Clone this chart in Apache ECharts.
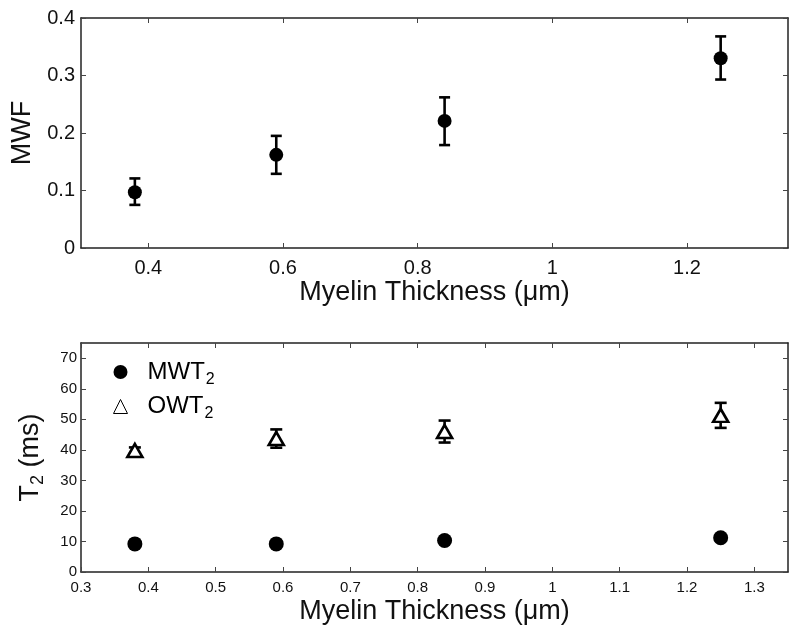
<!DOCTYPE html>
<html><head><meta charset="utf-8">
<script src="https://cdn.jsdelivr.net/npm/echarts@6/dist/echarts.min.js"></script>
<style>html,body{margin:0;padding:0;background:#fff}#c{width:800px;height:637px}</style>
</head><body><div id="c"></div>
<script>
// ---- data ----
const thickness = [0.38, 0.59, 0.84, 1.25];
const mwf = [0.097, 0.162, 0.221, 0.330];
const mwfLow = [0.075, 0.129, 0.179, 0.293];
const mwfHigh = [0.121, 0.195, 0.262, 0.368];
const mwt2 = [9.2, 9.2, 10.3, 11.2];
const owt2 = [39.8, 43.7, 46.0, 51.3];
const owt2Low = [38.8, 40.7, 42.4, 47.2];
const owt2High = [40.8, 46.7, 49.6, 55.4];
const topXTicks = [0.4, 0.6, 0.8, 1, 1.2];
const topYTicks = [0, 0.1, 0.2, 0.3, 0.4];
const botXTicks = [0.3, 0.4, 0.5, 0.6, 0.7, 0.8, 0.9, 1, 1.1, 1.2, 1.3];
const botYTicks = [0, 10, 20, 30, 40, 50, 60, 70];
const xTitle = 'Myelin Thickness (\u03bcm)';

const FONT = 'Liberation Sans';
const lineCol = '#222';

function errRender(capHalf, lw) {
  return function (params, api) {
    const x = api.value(0), lo = api.value(1), hi = api.value(2);
    const p1 = api.coord([x, lo]), p2 = api.coord([x, hi]);
    const st = { stroke: '#000', lineWidth: lw };
    return {
      type: 'group',
      children: [
        { type: 'line', shape: { x1: p1[0], y1: p1[1], x2: p2[0], y2: p2[1] }, style: st },
        { type: 'line', shape: { x1: p1[0] - capHalf, y1: p1[1], x2: p1[0] + capHalf, y2: p1[1] }, style: st },
        { type: 'line', shape: { x1: p2[0] - capHalf, y1: p2[1], x2: p2[0] + capHalf, y2: p2[1] }, style: st }
      ]
    };
  };
}

function xAx(grid, ticks, pos, labelSize, withLabel, name, nameGap) {
  return {
    gridIndex: grid, type: 'value', min: 0.3, max: 1.35, position: pos,
    axisLine: { show: true, onZero: false, lineStyle: { color: lineCol, width: 1.5 } },
    axisTick: { show: true, inside: true, length: 5, customValues: ticks, lineStyle: { color: '#444', width: 1 } },
    axisLabel: { show: withLabel, customValues: ticks, fontSize: labelSize, color: '#111', margin: grid === 0 ? 10 : 8, fontFamily: FONT },
    splitLine: { show: false },
    name: name || '', nameLocation: 'middle', nameGap: nameGap || 0,
    nameTextStyle: { fontSize: 27, color: '#111', fontFamily: FONT }
  };
}
function yAx(grid, ticks, max, pos, labelSize, withLabel, name, nameGap, rich) {
  return {
    gridIndex: grid, type: 'value', min: 0, max: max, position: pos,
    axisLine: { show: true, onZero: false, lineStyle: { color: lineCol, width: 1.5 } },
    axisTick: { show: true, inside: true, length: 5, customValues: ticks, lineStyle: { color: '#444', width: 1 } },
    axisLabel: { show: withLabel, customValues: ticks, fontSize: labelSize, color: '#111', margin: grid === 0 ? 6 : 4, fontFamily: FONT },
    splitLine: { show: false },
    name: name || '', nameLocation: 'middle', nameGap: nameGap || 0,
    nameTextStyle: { fontSize: 27, color: '#111', fontFamily: FONT, rich: rich }
  };
}

const chart = echarts.init(document.getElementById('c'), null, { renderer: 'canvas' });
chart.setOption({
  animation: false,
  backgroundColor: '#fff',
  textStyle: { fontFamily: FONT },
  grid: [
    { left: 81, top: 18, width: 707, height: 230 },
    { left: 81, top: 343, width: 707, height: 229 }
  ],
  xAxis: [
    xAx(0, topXTicks, 'bottom', 20, true, xTitle, 28),
    xAx(0, topXTicks, 'top', 20, false),
    xAx(1, botXTicks, 'bottom', 15, true, xTitle, 26),
    xAx(1, botXTicks, 'top', 15, false)
  ],
  yAxis: [
    yAx(0, topYTicks, 0.4, 'left', 20, true, 'MWF', 45),
    yAx(0, topYTicks, 0.4, 'right', 20, false),
    yAx(1, botYTicks, 75, 'left', 15, true, '{t|T}{s|2}{t| (ms)}', 34,
      { t: { fontSize: 27, color: '#111', fontFamily: FONT }, s: { fontSize: 18, color: '#111', fontFamily: FONT, padding: [14, 0, 0, 0] } }),
    yAx(1, botYTicks, 75, 'right', 15, false)
  ],
  legend: {
    orient: 'vertical', left: 108, top: 355,
    itemWidth: 14, itemHeight: 14, itemGap: 7,
    data: [
      { name: 'MWT2', icon: 'circle', itemStyle: { color: '#000', borderWidth: 0 } },
      { name: 'OWT2', icon: 'triangle', itemStyle: { color: '#fff', borderColor: '#000', borderWidth: 1 } }
    ],
    formatter: function (n) { return n.slice(0, 3) + '{s|2}'; },
    textStyle: {
      fontSize: 24, color: '#000', fontFamily: FONT, padding: [0, 0, 0, 15],
      rich: { s: { fontSize: 16, color: '#000', fontFamily: FONT, padding: [15, 0, 0, 1] } }
    }
  },
  series: [
    {
      type: 'custom', name: 'mwfErr', xAxisIndex: 0, yAxisIndex: 0, z: 2,
      renderItem: errRender(5.5, 2.6), encode: { x: 0, y: [1, 2] },
      data: thickness.map((x, i) => [x, mwfLow[i], mwfHigh[i]])
    },
    {
      type: 'scatter', name: 'MWF', xAxisIndex: 0, yAxisIndex: 0, z: 3,
      symbol: 'circle', symbolSize: 14, itemStyle: { color: '#000', opacity: 1 },
      data: thickness.map((x, i) => [x, mwf[i]])
    },
    {
      type: 'custom', name: 'owtErr', xAxisIndex: 2, yAxisIndex: 2, z: 2,
      renderItem: errRender(6, 2.6), encode: { x: 0, y: [1, 2] },
      data: thickness.map((x, i) => [x, owt2Low[i], owt2High[i]])
    },
    {
      type: 'scatter', name: 'MWT2', xAxisIndex: 2, yAxisIndex: 2, z: 3,
      symbol: 'circle', symbolSize: 15, itemStyle: { color: '#000', opacity: 1 },
      data: thickness.map((x, i) => [x, mwt2[i]])
    },
    {
      type: 'scatter', name: 'OWT2', xAxisIndex: 2, yAxisIndex: 2, z: 4,
      symbol: 'triangle', symbolSize: [15, 13],
      itemStyle: { color: '#fff', borderColor: '#000', borderWidth: 2.6, opacity: 1 },
      data: thickness.map((x, i) => [x, owt2[i]])
    }
  ]
});
</script>
</body></html>
